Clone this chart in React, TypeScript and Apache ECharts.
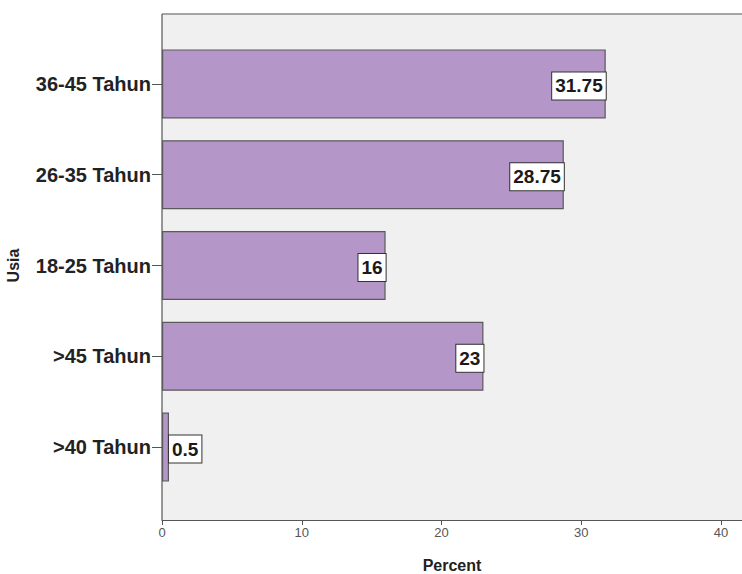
import React, { useEffect, useRef } from "react";
import * as echarts from "echarts";

// Age groups, top to bottom, and their share of respondents (%)
const categories = ["36-45 Tahun", "26-35 Tahun", "18-25 Tahun", ">45 Tahun", ">40 Tahun"];
const percents = [31.75, 28.75, 16, 23, 0.5];
const xTicks = [0, 10, 20, 30, 40];

const FONT = "'Liberation Sans', Arial, sans-serif";

export default function App() {
  const ref = useRef<HTMLDivElement>(null);

  useEffect(() => {
    document.body.style.margin = "0";
    if (!ref.current) return;
    const chart = echarts.init(ref.current, undefined, { renderer: "svg" });

    const plotLeft = 162;
    const plotTop = 14;
    const plotBottom = 520;
    const W = 742;

    chart.setOption({
      animation: false,
      backgroundColor: "#ffffff",
      textStyle: { fontFamily: FONT },
      graphic: [
        {
          type: "rect",
          z: -10,
          silent: true,
          shape: { x: plotLeft, y: plotTop, width: W - plotLeft, height: plotBottom - plotTop },
          style: { fill: "#f0f0f0" },
        },
        {
          type: "line",
          silent: true,
          shape: { x1: plotLeft, y1: plotTop, x2: W, y2: plotTop },
          style: { stroke: "#8a8a8a", lineWidth: 1.5 },
        },
        {
          type: "line",
          silent: true,
          shape: { x1: plotLeft, y1: plotTop, x2: plotLeft, y2: plotBottom },
          style: { stroke: "#555555", lineWidth: 1.2 },
        },
      ],
      grid: {
        left: plotLeft,
        right: 0,
        top: 38.5,
        bottom: 81.5,
        containLabel: false,
        outerBoundsMode: "none",
      },
      xAxis: {
        type: "value",
        min: 0,
        max: 41.5,
        interval: 10,
        offset: 27.5,
        name: "Percent",
        nameLocation: "middle",
        nameGap: 37,
        nameTextStyle: { fontFamily: FONT, fontSize: 16, fontWeight: "bold", color: "#222" },
        axisLine: { show: true, lineStyle: { color: "#555", width: 1.2 } },
        axisTick: { show: true, length: 5, lineStyle: { color: "#555" } },
        axisLabel: {
          margin: 6,
          fontSize: 13,
          color: "#555",
          fontFamily: FONT,
          formatter: (v: number) => (xTicks.includes(v) ? String(v) : ""),
        },
        splitLine: { show: false },
      },
      yAxis: {
        type: "category",
        data: categories,
        inverse: true,
        name: "Usia",
        nameLocation: "middle",
        nameGap: 141,
        nameRotate: 90,
        nameTextStyle: { fontFamily: FONT, fontSize: 16, fontWeight: "bold", color: "#222" },
        axisLine: { show: false },
        axisTick: { show: true, alignWithLabel: true, length: 10, lineStyle: { color: "#555" } },
        axisLabel: { margin: 11, fontSize: 20, fontWeight: "bold", color: "#222", fontFamily: FONT },
      },
      series: [
        {
          type: "bar",
          barWidth: 69,
          data: percents.map((v) => ({
            value: v,
            label: { position: v < 3 ? "right" : "insideRight", distance: 0 },
          })),
          itemStyle: { color: "#b596c9", borderColor: "#5a5a5a", borderWidth: 1.2 },
          label: {
            show: true,
            fontFamily: FONT,
            fontSize: 19,
            fontWeight: "bold",
            color: "#1a1a1a",
            backgroundColor: "#ffffff",
            borderColor: "#333333",
            borderWidth: 1,
            padding: [5, 3, 3, 3],
            offset: [0, 2],
          },
        },
      ],
    });

    return () => chart.dispose();
  }, []);

  return <div ref={ref} style={{ width: 742, height: 574 }} />;
}
